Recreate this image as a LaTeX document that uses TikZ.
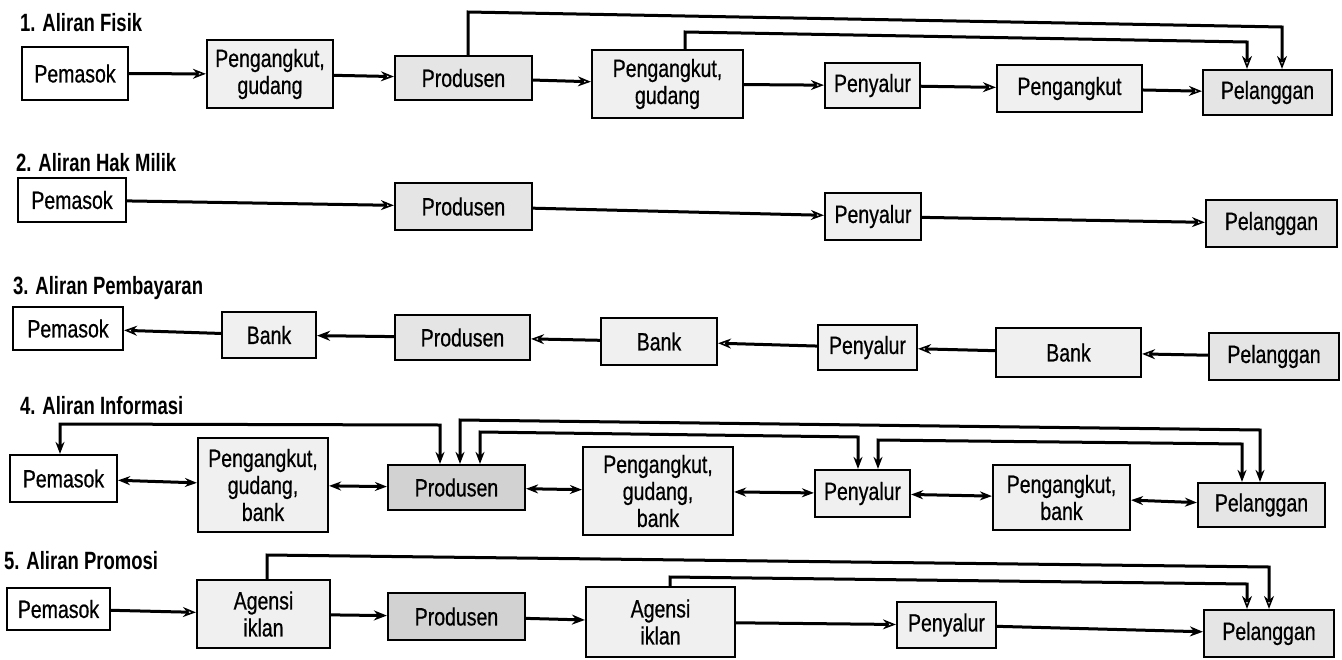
\documentclass[tikz,border=0pt]{standalone}
\usepackage{fontspec}
\setmainfont{Liberation Sans}[FakeStretch=0.78, FakeBold=0.6]
\newfontfamily\ttlfam{Liberation Sans}[FakeStretch=0.74]
\usetikzlibrary{arrows.meta}
\newcommand\bxfont{\fontsize{25}{27}\selectfont}
\newcommand\ttlfont{\ttlfam\fontsize{25}{27}\selectfont\bfseries}
\begin{document}
\begin{tikzpicture}[x=1pt,y=-1pt,
  box/.style={draw=black, line width=2.2pt, inner sep=0pt, align=center, font=\bxfont, fill=gray!12},
  wbox/.style={box, fill=white},
  mbox/.style={box, fill=gray!20},
  dbox/.style={box, fill=gray!35},
  ttl/.style={anchor=base west, font=\ttlfont, inner sep=0pt},
  con/.style={line width=3pt},
  oarr/.style={con, -{Stealth[open, length=13pt, width=10pt, line width=1.6pt]}},
  farr/.style={con, -{Stealth[length=13pt, width=10pt]}},
  dblarr/.style={con, {Stealth[length=12pt, width=9pt]}-{Stealth[length=12pt, width=9pt]}}
]
\fill[white] (0,0) rectangle (1342,659);
\useasboundingbox (0,0) rectangle (1342,659);

% ---------- Row 1 ----------
\node[ttl] (t1) at (20,31) {1. Aliran Fisik};
\node[wbox, minimum width=106pt, minimum height=53pt] (p1a) at (75,73.5) {Pemasok};
\node[box, minimum width=126pt, minimum height=68pt] (p1b) at (270,74) {Pengangkut,\\gudang};
\node[mbox, minimum width=137pt, minimum height=44pt] (p1c) at (463.5,78) {Produsen};
\node[box, minimum width=151pt, minimum height=68pt] (p1d) at (667.5,84) {Pengangkut,\\gudang};
\node[box, minimum width=95pt, minimum height=45pt] (p1e) at (872.5,85.5) {Penyalur};
\node[box, minimum width=145pt, minimum height=47pt] (p1f) at (1069.5,88.5) {Pengangkut};
\node[mbox, minimum width=129pt, minimum height=45pt] (p1g) at (1267.5,92.5) {Pelanggan};
\draw[oarr] (p1a) -- (p1b);
\draw[oarr] (p1b) -- (p1c);
\draw[oarr] (p1c) -- (p1d);
\draw[oarr] (p1d) -- (p1e);
\draw[oarr] (p1e) -- (p1f);
\draw[oarr] (p1f) -- (p1g);
\coordinate (r1a) at (468,12);
\coordinate (r1b) at (1282,27);
\draw[oarr] (p1c.north -| r1a) -- (r1a) -- (r1b) -- (p1g.north -| r1b);
\coordinate (r1c) at (685,32);
\coordinate (r1d) at (1247,42);
\draw[oarr] (p1d.north -| r1c) -- (r1c) -- (r1d) -- (p1g.north -| r1d);

% ---------- Row 2 ----------
\node[ttl] (t2) at (16,171) {2. Aliran Hak Milik};
\node[wbox, minimum width=108pt, minimum height=44pt] (p2a) at (72,200) {Pemasok};
\node[mbox, minimum width=137pt, minimum height=47pt] (p2b) at (463.5,206.5) {Produsen};
\node[box, minimum width=96pt, minimum height=47pt] (p2c) at (873,216.5) {Penyalur};
\node[mbox, minimum width=131pt, minimum height=47pt] (p2d) at (1271.5,223.5) {Pelanggan};
\draw[oarr] (p2a) -- (p2b);
\draw[oarr] (p2b) -- (p2c);
\draw[oarr] (p2c) -- (p2d);

% ---------- Row 3 ----------
\node[ttl] (t3) at (13,294) {3. Aliran Pembayaran};
\node[wbox, minimum width=110pt, minimum height=43pt] (p3a) at (68,328.5) {Pemasok};
\node[box, minimum width=94pt, minimum height=46pt] (p3b) at (269,335) {Bank};
\node[mbox, minimum width=135pt, minimum height=45pt] (p3c) at (462.5,337.5) {Produsen};
\node[box, minimum width=116pt, minimum height=47pt] (p3d) at (659,341.5) {Bank};
\node[box, minimum width=99pt, minimum height=45pt] (p3e) at (867.5,347.5) {Penyalur};
\node[box, minimum width=145pt, minimum height=49pt] (p3f) at (1068.5,352.5) {Bank};
\node[mbox, minimum width=130pt, minimum height=47pt] (p3g) at (1274,356.5) {Pelanggan};
\draw[oarr] (p3b) -- (p3a);
\draw[farr] (p3c) -- (p3b);
\draw[oarr] (p3d) -- (p3c);
\draw[oarr] (p3e) -- (p3d);
\draw[oarr] (p3f) -- (p3e);
\draw[oarr] (p3g) -- (p3f);

% ---------- Row 4 ----------
\node[ttl] (t4) at (20,414) {4. Aliran Informasi};
\node[wbox, minimum width=107pt, minimum height=47pt] (p4a) at (63.5,478.5) {Pemasok};
\node[box, minimum width=130pt, minimum height=94pt] (p4b) at (263,485) {Pengangkut,\\gudang,\\bank};
\node[dbox, minimum width=137pt, minimum height=45pt] (p4c) at (456.5,487.5) {Produsen};
\node[box, minimum width=150pt, minimum height=88pt] (p4d) at (658,491) {Pengangkut,\\gudang,\\bank};
\node[box, minimum width=95pt, minimum height=47pt] (p4e) at (862.5,493.5) {Penyalur};
\node[box, minimum width=137pt, minimum height=65pt] (p4f) at (1061.5,497.5) {Pengangkut,\\bank};
\node[mbox, minimum width=127pt, minimum height=44pt] (p4g) at (1261.5,505) {Pelanggan};
\draw[dblarr] (p4a) -- (p4b);
\draw[dblarr] (p4b) -- (p4c);
\draw[dblarr] (p4c) -- (p4d);
\draw[dblarr] (p4d) -- (p4e);
\draw[dblarr] (p4e) -- (p4f);
\draw[dblarr] (p4f) -- (p4g);
\coordinate (r4a) at (60,424);
\coordinate (r4b) at (440,425);
\draw[dblarr] (p4a.north -| r4a) -- (r4a) -- (r4b) -- (p4c.north -| r4b);
\coordinate (r4c) at (460,420);
\coordinate (r4d) at (1260,430);
\draw[dblarr] (p4c.north -| r4c) -- (r4c) -- (r4d) -- (p4g.north -| r4d);
\coordinate (r4e) at (480,432);
\coordinate (r4f) at (858,437);
\draw[dblarr] (p4c.north -| r4e) -- (r4e) -- (r4f) -- (p4e.north -| r4f);
\coordinate (r4g) at (878,440);
\coordinate (r4h) at (1242,444);
\draw[dblarr] (p4e.north -| r4g) -- (r4g) -- (r4h) -- (p4g.north -| r4h);

% ---------- Row 5 ----------
\node[ttl] (t5) at (4,569) {5. Aliran Promosi};
\node[wbox, minimum width=103pt, minimum height=42pt] (p5a) at (58.5,609) {Pemasok};
\node[box, minimum width=133pt, minimum height=68pt] (p5b) at (263.5,614) {Agensi\\iklan};
\node[dbox, minimum width=137pt, minimum height=47pt] (p5c) at (456.5,616.5) {Produsen};
\node[box, minimum width=149pt, minimum height=70pt] (p5d) at (660.5,622) {Agensi\\iklan};
\node[box, minimum width=99pt, minimum height=46pt] (p5e) at (946.5,625) {Penyalur};
\node[mbox, minimum width=130pt, minimum height=47pt] (p5f) at (1269,633.5) {Pelanggan};
\draw[oarr] (p5a) -- (p5b);
\draw[farr] (p5b) -- (p5c);
\draw[farr] (p5c) -- (p5d);
\draw[oarr] (p5d) -- (p5e);
\draw[farr] (p5e) -- (p5f);
\coordinate (r5a) at (267,555);
\coordinate (r5b) at (1269,567);
\draw[oarr] (p5b.north -| r5a) -- (r5a) -- (r5b) -- (p5f.north -| r5b);
\coordinate (r5c) at (670,577);
\coordinate (r5d) at (1247,584);
\draw[oarr] (p5d.north -| r5c) -- (r5c) -- (r5d) -- (p5f.north -| r5d);
\end{tikzpicture}
\end{document}
